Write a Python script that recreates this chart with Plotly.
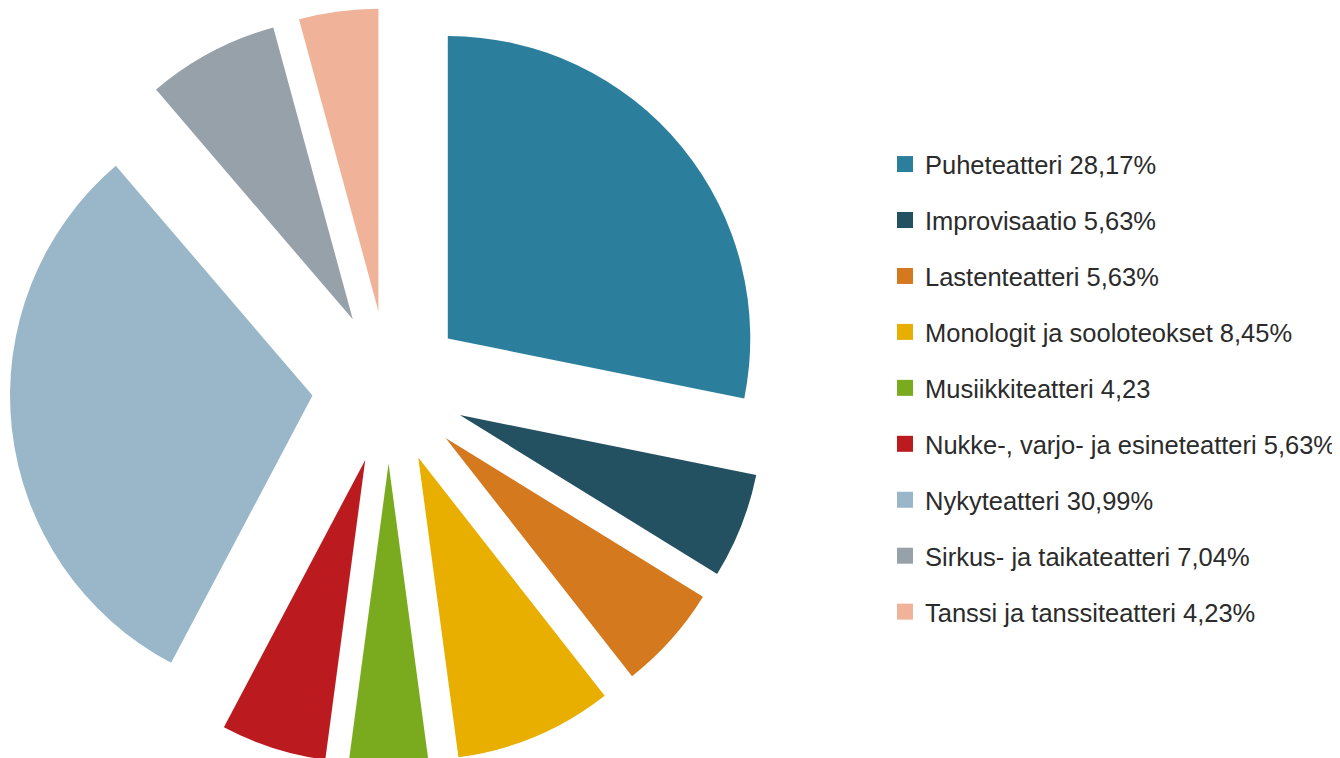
import plotly.graph_objects as go

categories = [
    "Puheteatteri", "Improvisaatio", "Lastenteatteri",
    "Monologit ja sooloteokset", "Musiikkiteatteri",
    "Nukke-, varjo- ja esineteatteri", "Nykyteatteri",
    "Sirkus- ja taikateatteri", "Tanssi ja tanssiteatteri",
]
values = [28.17, 5.63, 5.63, 8.45, 4.23, 5.63, 30.99, 7.04, 4.23]
value_labels = ["28,17%", "5,63%", "5,63%", "8,45%", "4,23",
                "5,63%", "30,99%", "7,04%", "4,23%"]
colors = ["#2c7f9c", "#245162", "#d4791e", "#e9af00", "#7aab1f",
          "#bb1b1e", "#9ab6c9", "#97a1a9", "#f0b399"]

fig = go.Figure()
fig.add_trace(go.Pie(
    labels=categories,
    values=values,
    sort=False,
    direction="clockwise",
    rotation=0,
    pull=[0.253] * len(values),
    marker=dict(colors=colors, line=dict(width=0)),
    textinfo="none",
    hoverinfo="label+percent",
    showlegend=False,
    domain=dict(x=[0, 0.568], y=[0, 1]),
))

for cat, lab, col in zip(categories, value_labels, colors):
    fig.add_trace(go.Scatter(
        x=[None], y=[None], mode="markers",
        marker=dict(symbol="square", size=16, color=col),
        name=f"{cat} {lab}",
        legendgroup=cat,
        showlegend=True,
        hoverinfo="skip",
    ))

fig.update_layout(
    width=1340, height=758,
    margin=dict(l=0, r=0, t=0, b=0),
    paper_bgcolor="white",
    plot_bgcolor="white",
    xaxis=dict(visible=False),
    yaxis=dict(visible=False),
    legend=dict(
        x=877 / 1340, xanchor="left",
        y=0.4987, yanchor="middle",
        font=dict(family="Liberation Sans, Arial, sans-serif", size=25.5, color="#2b2b2b"),
        tracegroupgap=19.8,
        itemsizing="trace",
        bgcolor="rgba(0,0,0,0)",
    ),
)

fig.write_html("out.html")
